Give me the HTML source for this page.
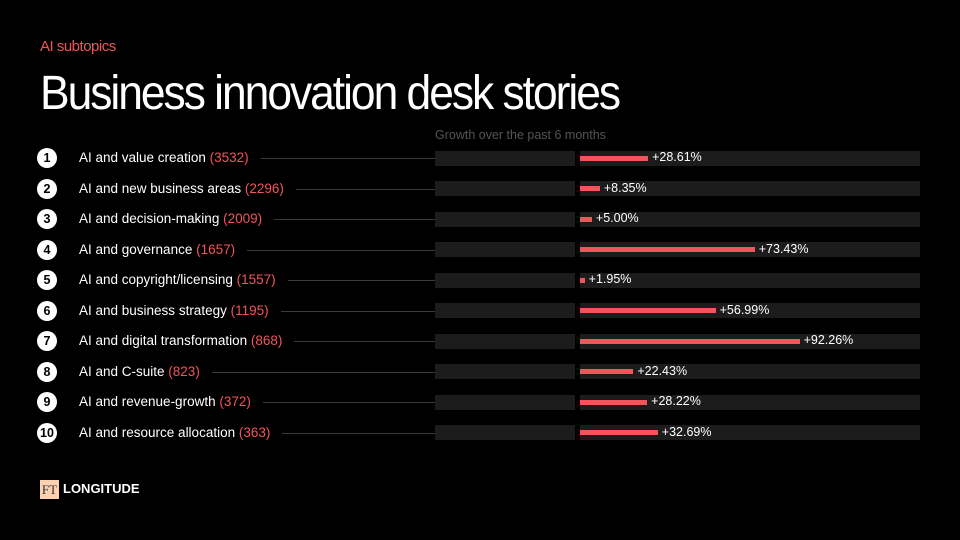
<!DOCTYPE html>
<html><head><style>
body{margin:0;background:#000;width:960px;height:540px;overflow:hidden;font-family:"Liberation Sans",sans-serif;color:#fff;position:relative}
.a{position:absolute}
.sub{left:40px;top:38px;font-size:15px;color:#f2545b;letter-spacing:-0.5px}
.title{left:40px;top:66px;font-size:48px;letter-spacing:-2.2px;white-space:nowrap;transform-origin:left top;transform:scaleX(0.925)}
.gh{left:435px;top:128px;font-size:12.5px;color:#555}
.circ{width:20px;height:20px;border-radius:50%;background:#fff;color:#000;font-size:12.5px;font-weight:bold;text-align:center;line-height:20px}
.lab{font-size:13.5px;white-space:nowrap}
.lab span{color:#f2545b}
.line{height:1px;background:#3a3a3a}
.box{background:#1c1c1c;height:15px}
.bar{background:#f2545b;height:5px}
.pct{font-size:12.5px;white-space:nowrap}
</style></head><body>
<div class="a sub">AI subtopics</div>
<div class="a title">Business innovation desk stories</div>
<div class="a gh">Growth over the past 6 months</div>
<div id="rows"></div>
<div class="a" style="left:40px;top:480px;width:19px;height:19px;background:#fcd0b1;color:#333;font-family:'Liberation Serif',serif;font-size:13px;line-height:19px;text-align:center">FT</div>
<div class="a" style="left:63px;top:481px;font-size:13px;font-weight:bold;letter-spacing:0px">LONGITUDE</div>
<script>
var d=[["AI and value creation","3532",28.61],["AI and new business areas","2296",8.35],["AI and decision-making","2009",5.00],["AI and governance","1657",73.43],["AI and copyright/licensing","1557",1.95],["AI and business strategy","1195",56.99],["AI and digital transformation","868",92.26],["AI and C-suite","823",22.43],["AI and revenue-growth","372",28.22],["AI and resource allocation","363",32.69]];
var h="";
d.forEach(function(r,i){
var c=158+i*30.55;
h+='<div class="a circ" style="left:37px;top:'+(c-10)+'px">'+(i+1)+'</div>';
h+='<div class="a lab" id="l'+i+'" style="left:79px;top:'+(c-8)+'px">'+r[0]+' <span>('+r[1]+')</span></div>';
h+='<div class="a box" style="left:435px;width:140px;top:'+(c-7.5)+'px"></div>';
h+='<div class="a box" style="left:580px;width:340px;top:'+(c-7.5)+'px"></div>';
var w=r[2]*2.38;
h+='<div class="a bar" style="left:580px;width:'+w+'px;top:'+(c-2.5)+'px"></div>';
h+='<div class="a pct" style="left:'+(584+w)+'px;top:'+(c-8)+'px">+'+r[2].toFixed(2)+'%</div>';
});
document.getElementById("rows").innerHTML=h;
d.forEach(function(r,i){
var e=document.getElementById("l"+i);var c=158+i*30.55;
var x=79+e.offsetWidth+12;
var l=document.createElement("div");l.className="a line";l.style.left=x+"px";l.style.width=(435-x)+"px";l.style.top=c+"px";document.body.appendChild(l);
});
</script>
</body></html>
